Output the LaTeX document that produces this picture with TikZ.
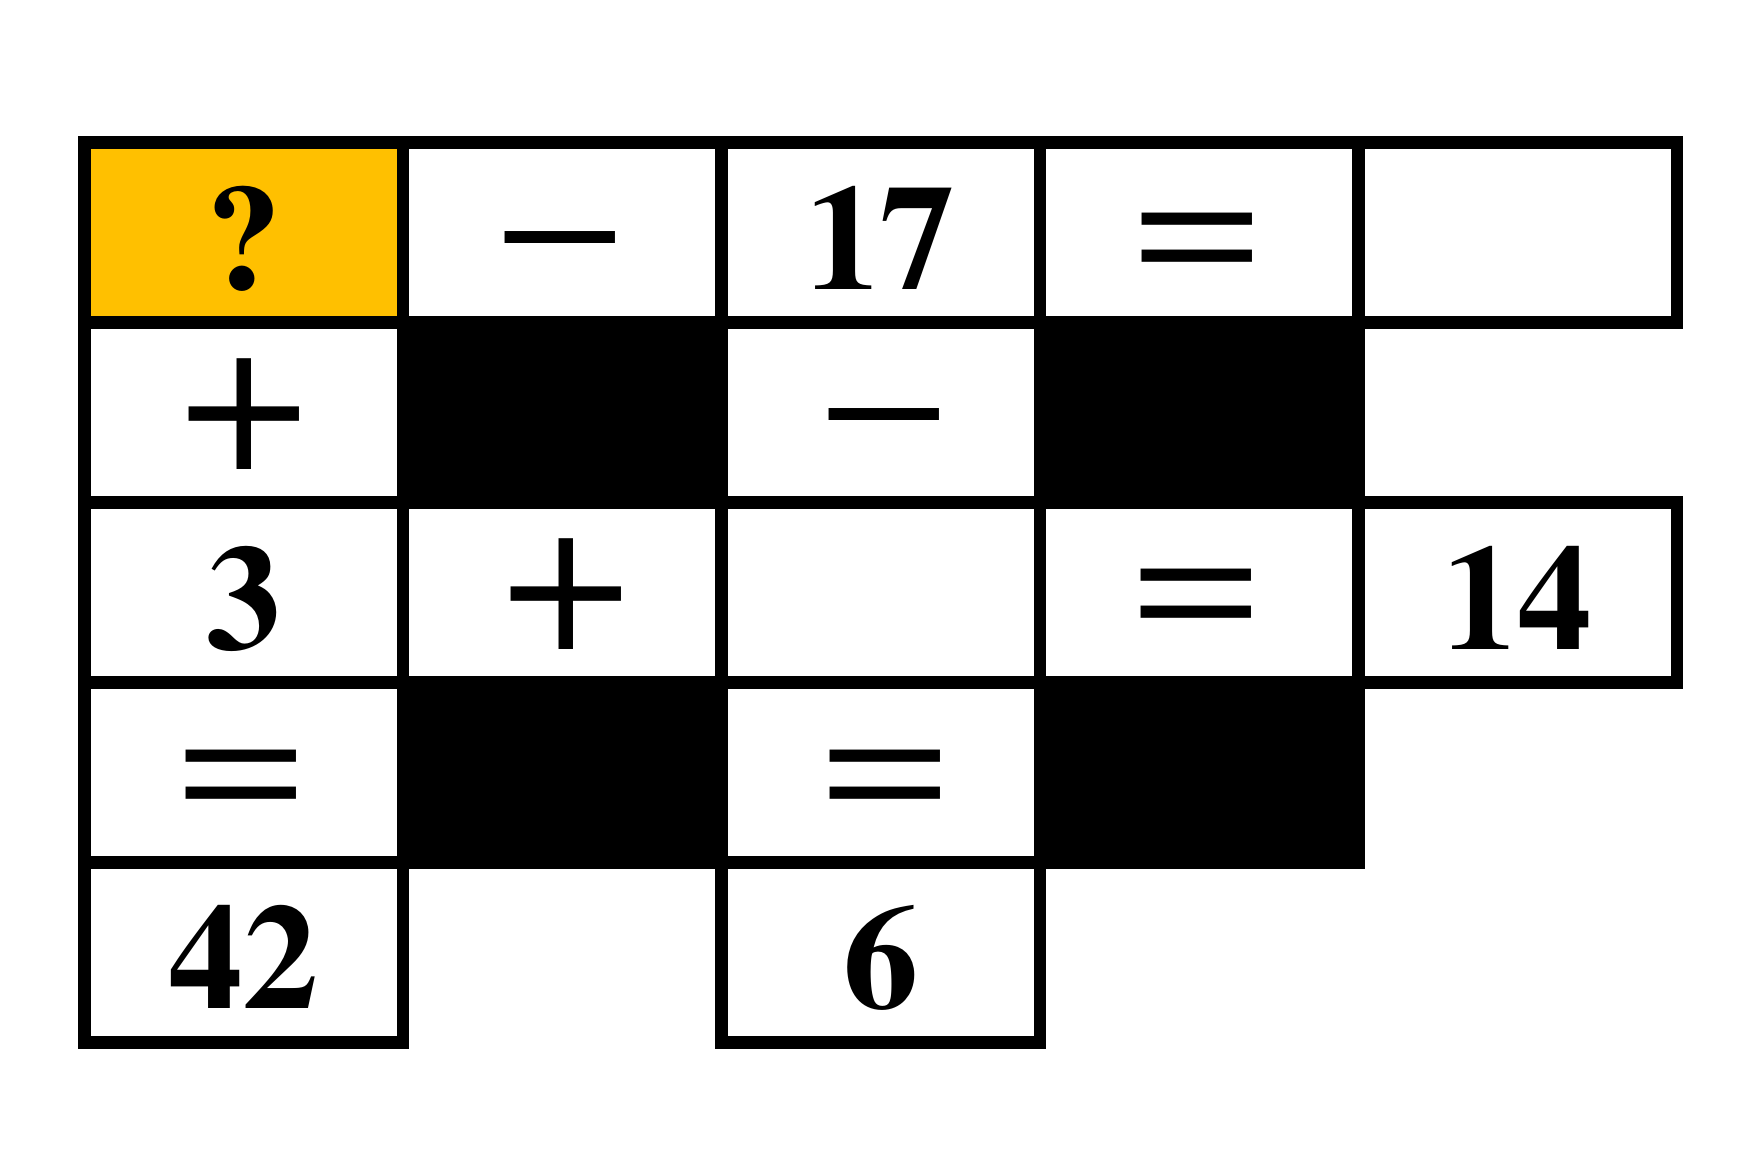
\documentclass[tikz,border=0pt]{standalone}
\usepackage[T1]{fontenc}
\usepackage{textcomp}
\usepackage{mathptmx}
\usepackage{graphicx}
\definecolor{gold}{HTML}{FFC000}
\newcommand{\opminus}{\scalebox{1}[0.83]{\textminus}}
\newcommand{\opequal}{\scalebox{1}[0.845]{=}}
\begin{document}
\begin{tikzpicture}[x=1pt,y=-1pt,
  cellbox/.style={draw=black, line width=12.5pt, minimum width=318.5pt, minimum height=180pt, inner sep=0pt, outer sep=0pt, fill=white},
  blackbox/.style={cellbox, fill=black},
  goldbox/.style={cellbox, fill=gold},
  numtxt/.style={font=\fontsize{150}{150}\selectfont\bfseries, anchor=base, inner sep=0pt},
  optxt/.style={font=\fontsize{219}{219}\selectfont, anchor=base, inner sep=0pt},
]
\useasboundingbox (0,0) rectangle (1759,1157);
% row 1
\node[goldbox]  (c11) at (243.75,232.5) {};
\node[cellbox]  (c12) at (562.25,232.5) {};
\node[cellbox]  (c13) at (880.75,232.5) {};
\node[cellbox]  (c14) at (1199.25,232.5) {};
\node[cellbox]  (c15) at (1517.75,232.5) {};
% row 2
\node[cellbox]  (c21) at (243.75,412.5) {};
\node[blackbox] (c22) at (562.25,412.5) {};
\node[cellbox]  (c23) at (880.75,412.5) {};
\node[blackbox] (c24) at (1199.25,412.5) {};
% row 3
\node[cellbox]  (c31) at (243.75,592.5) {};
\node[cellbox]  (c32) at (562.25,592.5) {};
\node[cellbox]  (c33) at (880.75,592.5) {};
\node[cellbox]  (c34) at (1199.25,592.5) {};
\node[cellbox]  (c35) at (1517.75,592.5) {};
% row 4
\node[cellbox]  (c41) at (243.75,772.5) {};
\node[blackbox] (c42) at (562.25,772.5) {};
\node[cellbox]  (c43) at (880.75,772.5) {};
\node[blackbox] (c44) at (1199.25,772.5) {};
% row 5
\node[cellbox]  (c51) at (243.75,952.5) {};
\node[cellbox]  (c53) at (880.75,952.5) {};
% texts
\node[numtxt] (t11) at (243.75,289) {?};
\node[optxt]  (t12) at (560.5,283.5) {\opminus};
\node[numtxt] (t13) at (880.75,289) {17};
\node[optxt]  (t14) at (1197,284.3) {\opequal};
\node[optxt]  (t21) at (244.2,469.4) {+};
\node[optxt]  (t23) at (884.5,460) {\opminus};
\node[numtxt] (t31) at (243.75,649) {3};
\node[optxt]  (t32) at (566,649.4) {+};
\node[optxt]  (t34) at (1196.5,640.8) {\opequal};
\node[numtxt] (t35) at (1517.75,649) {14};
\node[optxt]  (t41) at (241,821.5) {\opequal};
\node[optxt]  (t43) at (885,821.5) {\opequal};
\node[numtxt] (t51) at (243.75,1008.5) {42};
\node[numtxt] (t53) at (880.75,1008.5) {6};
\end{tikzpicture}
\end{document}
